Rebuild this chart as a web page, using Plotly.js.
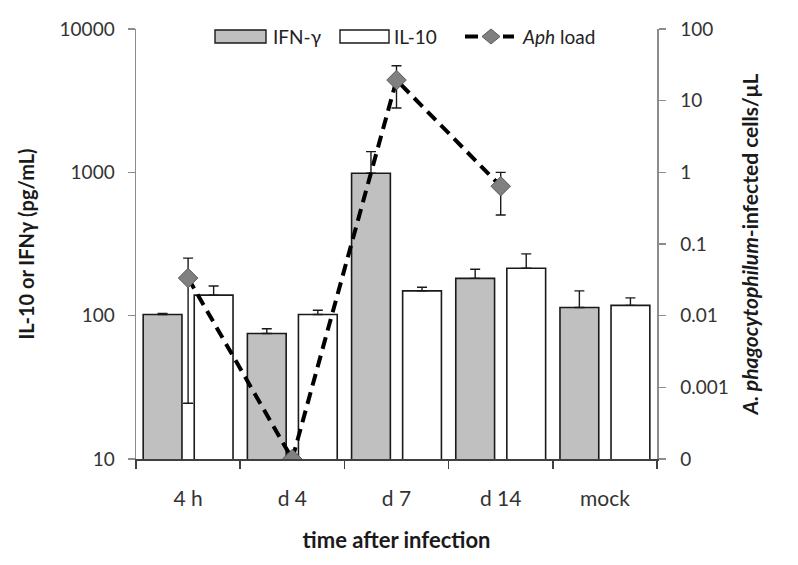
<!DOCTYPE html>
<html>
<head>
<meta charset="utf-8">
<script src="https://cdn.plot.ly/plotly-3.0.1.min.js"></script>
<style>html,body{margin:0;padding:0;background:#fff;}#chart{width:798px;height:565px;}</style>
</head>
<body>
<div id="chart"></div>
<script>
// ---- data ----
const categories = ["4 h", "d 4", "d 7", "d 14", "mock"];
const ifnValues = [102, 75, 985, 182, 114];      // pg/mL
const ifnErrUp  = [1.5, 6, 410, 29, 35];
const il10Values = [139, 102, 149, 214, 118];    // pg/mL
const il10ErrUp  = [22, 7, 9, 56, 15];
const aphCats = ["4 h", "d 4", "d 7", "d 14"];
const aphLoad = [0.0335, 0.0001, 19.4, 0.64];    // cells/µL (d 4 = 0, drawn at axis floor)
const aphErrUp = [0.030, 0, 11.3, 0.36];
const aphErrDown = [0.0329, 0, 11.5, 0.386];
const leftTicks = [10, 100, 1000, 10000];
const leftTickText = ["10", "100", "1000", "10000"];
const rightTicks = [0.0001, 0.001, 0.01, 0.1, 1, 10, 100];
const rightTickText = ["0", "0.001", "0.01", "0.1", "1", "10", "100"];

const FONT = "Lato, 'Open Sans', sans-serif";
const zeros = n => new Array(n).fill(0);

const traces = [
  {
    type: "bar", name: "IFN-γ", x: categories, y: ifnValues,
    marker: {color: "#c0c0c0", line: {color: "#1a1a1a", width: 1.6}},
    error_y: {type: "data", symmetric: false, array: ifnErrUp, arrayminus: zeros(ifnErrUp.length),
              color: "#1a1a1a", thickness: 1.4, width: 5},
    showlegend: false
  },
  {
    type: "bar", name: "IL-10", x: categories, y: il10Values,
    marker: {color: "#ffffff", line: {color: "#1a1a1a", width: 1.6}},
    error_y: {type: "data", symmetric: false, array: il10ErrUp, arrayminus: zeros(il10ErrUp.length),
              color: "#1a1a1a", thickness: 1.4, width: 5},
    showlegend: false
  },
  {
    type: "scatter", mode: "lines+markers", name: "Aph load", x: aphCats, y: aphLoad, yaxis: "y2",
    line: {color: "#000000", width: 4, dash: "12px,7px"},
    marker: {symbol: "diamond", size: 15, color: "#808080", line: {color: "#5a5a5a", width: 1}},
    error_y: {type: "data", symmetric: false, array: aphErrUp, arrayminus: aphErrDown,
              color: "#1a1a1a", thickness: 1.4, width: 5},
    showlegend: false
  }
];

// custom legend (paper coordinates)
const W = 521, H = 430;
const px = v => (v - 136) / W;
const py = v => (459 - v) / H;
const shapes = [
  {type: "rect", xref: "paper", yref: "paper", x0: px(215), x1: px(266), y0: py(43), y1: py(30),
   fillcolor: "#c0c0c0", line: {color: "#1a1a1a", width: 1.4}},
  {type: "rect", xref: "paper", yref: "paper", x0: px(340), x1: px(389), y0: py(43), y1: py(30),
   fillcolor: "#ffffff", line: {color: "#1a1a1a", width: 1.4}},
  {type: "line", xref: "paper", yref: "paper", x0: px(465), x1: px(478), y0: py(36.5), y1: py(36.5),
   line: {color: "#000", width: 4}},
  {type: "line", xref: "paper", yref: "paper", x0: px(503), x1: px(514), y0: py(36.5), y1: py(36.5),
   line: {color: "#000", width: 4}},
  {type: "path", xref: "paper", yref: "paper",
   path: `M ${px(482)} ${py(36.5)} L ${px(491)} ${py(29)} L ${px(500)} ${py(36.5)} L ${px(491)} ${py(44)} Z`,
   fillcolor: "#808080", line: {color: "#5a5a5a", width: 1}}
];
const annotations = [
  {xref: "paper", yref: "paper", x: px(271), y: py(36.5), text: "IFN-γ", showarrow: false,
   xanchor: "left", yanchor: "middle", font: {family: FONT, size: 19, color: "#222"}},
  {xref: "paper", yref: "paper", x: px(392), y: py(36.5), text: "IL-10", showarrow: false,
   xanchor: "left", yanchor: "middle", font: {family: FONT, size: 19, color: "#222"}},
  {xref: "paper", yref: "paper", x: px(520), y: py(36.5), text: "<i>Aph</i> load", showarrow: false,
   xanchor: "left", yanchor: "middle", font: {family: FONT, size: 19, color: "#222"}}
];

const layout = {
  width: 798, height: 565,
  margin: {l: 136, r: 141, t: 29, b: 106, pad: 0},
  paper_bgcolor: "#ffffff", plot_bgcolor: "#ffffff",
  font: {family: FONT, size: 18, color: "#333"},
  barmode: "group", bargap: 0.02, bargroupgap: 0.24,
  showlegend: false,
  xaxis: {
    type: "category", categoryorder: "array", categoryarray: categories, range: [-0.5, 4.5],
    showline: true, linecolor: "#404040", linewidth: 1.5,
    ticks: "outside", tickson: "boundaries", ticklen: 8, tickcolor: "#404040", tickwidth: 1.5,
    ticklabelstandoff: 20, showgrid: false, zeroline: false,
    tickfont: {family: FONT, size: 21, color: "#333"},
    title: {text: "<b>time after infection</b>", standoff: 24, font: {family: FONT, size: 22, color: "#1a1a1a"}}
  },
  yaxis: {
    type: "log", range: [1, 4], tickvals: leftTicks, ticktext: leftTickText,
    showline: true, linecolor: "#8c8c8c", linewidth: 1.5,
    ticks: "outside", ticklen: 7, tickcolor: "#8c8c8c", tickwidth: 1.5,
    ticklabelstandoff: 9, showgrid: false, zeroline: false,
    tickfont: {family: FONT, size: 19, color: "#333"},
    title: {text: "<b>IL-10 or IFNγ (pg/mL)</b>", standoff: 19, font: {family: FONT, size: 20, color: "#1a1a1a"}}
  },
  yaxis2: {
    type: "log", range: [-4, 2], overlaying: "y", side: "right",
    tickvals: rightTicks, ticktext: rightTickText,
    showline: true, linecolor: "#8c8c8c", linewidth: 1.5,
    ticks: "outside", ticklen: 7, tickcolor: "#8c8c8c", tickwidth: 1.5,
    ticklabelstandoff: 11, showgrid: false, zeroline: false,
    tickfont: {family: FONT, size: 19, color: "#333"},
    title: {text: "<b><i>A. phagocytophilum</i>-infected cells/μL</b>", standoff: 15,
            font: {family: FONT, size: 21, color: "#1a1a1a"}}
  },
  shapes: shapes,
  annotations: annotations
};

Plotly.newPlot("chart", traces, layout, {staticPlot: true, displayModeBar: false});
</script>
</body>
</html>
